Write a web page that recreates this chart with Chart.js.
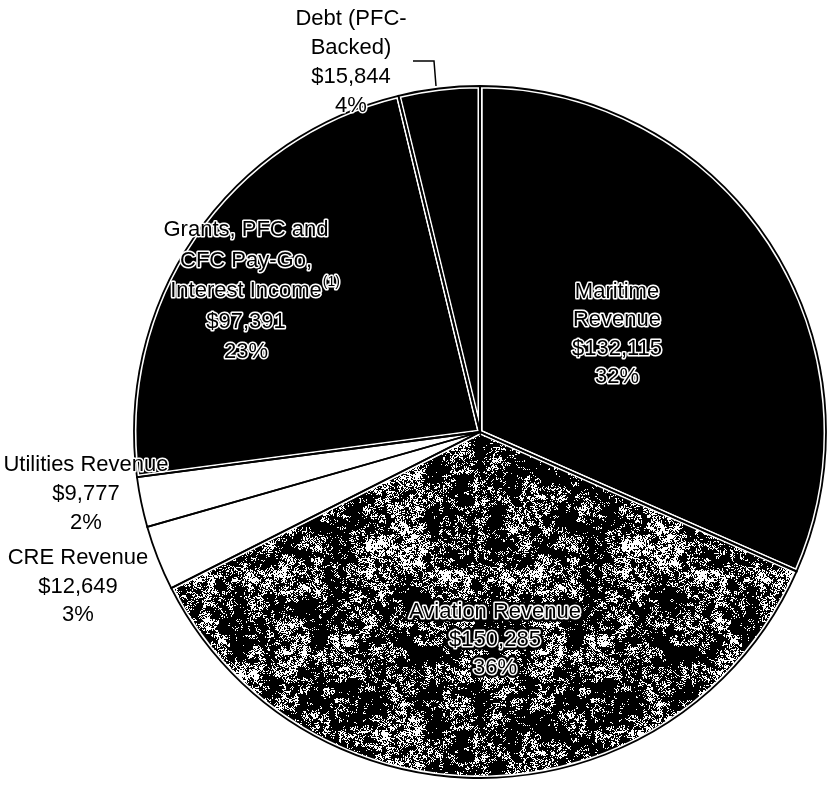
<!DOCTYPE html>
<html>
<head>
<meta charset="utf-8">
<script src="https://cdn.jsdelivr.net/npm/chart.js@4.4.1/dist/chart.umd.min.js"></script>
<style>
  html, body { margin: 0; padding: 0; background: #fff; }
  canvas { display: block; }
</style>
</head>
<body>
<canvas id="pie" width="832" height="788"></canvas>
<script>
// Funding sources ($ thousands), clockwise from 12 o'clock
const categories = ['Maritime Revenue', 'Aviation Revenue', 'CRE Revenue', 'Utilities Revenue',
                    'Grants, PFC and CFC Pay-Go, Interest Income', 'Debt (PFC-Backed)'];
const nameLines = [
  ['Maritime', 'Revenue'],
  ['Aviation Revenue'],
  ['CRE Revenue'],
  ['Utilities Revenue'],
  ['Grants, PFC and', 'CFC Pay-Go,', 'Interest Income'],
  ['Debt (PFC-', 'Backed)']
];
const footnoteMarks = ['', '', '', '', '(1)', ''];
const amounts = [132115, 150285, 12649, 9777, 97391, 15844];

// Label placement, relative to the pie centre (first line centre + line height)
const labelLayout = [
  { dx: 137,  dy: -140, lh: 28.3, darkHalo: false },
  { dx: 15,   dy: 180,  lh: 28,   darkHalo: true },
  { dx: -402, dy: 126,  lh: 28.5, darkHalo: false },
  { dx: -394, dy: 33,   lh: 29,   darkHalo: false },
  { dx: -234, dy: -202, lh: 30.5, darkHalo: false },
  { dx: -129, dy: -413, lh: 29,   darkHalo: false }
];
// Leader from the debt label down to its slice
const debtLeader = [[-67, -371], [-46, -371], [-44, -346]];

const FONT = '"Liberation Sans", Arial, Helvetica, sans-serif';

// Black/white grain used for the aviation slice
function grainPattern() {
  const s = 256;
  const c = document.createElement('canvas');
  c.width = c.height = s;
  const g = c.getContext('2d');
  const img = g.createImageData(s, s);
  const h = (x, y) => { const v = Math.sin(x * 127.1 + y * 311.7) * 43758.5453; return v - Math.floor(v); };
  const sm = t => t * t * (3 - 2 * t);
  const noise = (x, y, cell) => {
    const n = s / cell;
    const lat = (i, j) => h(((i % n) + n) % n + cell * 0.13, ((j % n) + n) % n + cell * 0.29);
    const fx = x / cell, fy = y / cell;
    const i = Math.floor(fx), j = Math.floor(fy);
    const tx = sm(fx - i), ty = sm(fy - j);
    const a = lat(i, j), b = lat(i + 1, j), c2 = lat(i, j + 1), d = lat(i + 1, j + 1);
    return (a * (1 - tx) + b * tx) * (1 - ty) + (c2 * (1 - tx) + d * tx) * ty;
  };
  for (let y = 0; y < s; y++) {
    for (let x = 0; x < s; x++) {
      const q = 0.3 * noise(x, y, 16) + 0.35 * noise(x, y, 4) + 0.35 * h(x + 0.37, y + 0.71);
      const on = q < 0.6 ? 0 : 255;
      const k = (y * s + x) * 4;
      img.data[k] = img.data[k + 1] = img.data[k + 2] = on;
      img.data[k + 3] = 255;
    }
  }
  g.putImageData(img, 0, 0);
  return g.createPattern(c, 'repeat');
}

const total = amounts.reduce((a, b) => a + b, 0);
const money = v => '$' + v.toLocaleString('en-US');
const pct = v => Math.round(v / total * 100) + '%';

const ctx0 = document.getElementById('pie').getContext('2d');
const sliceFills = ['#000', grainPattern(), '#fff', '#fff', '#000', '#000'];

// Thin black outline on every slice, sitting in the middle of the white border
const outlinePlugin = {
  id: 'sliceOutline',
  afterDatasetsDraw(chart) {
    const ctx = chart.ctx;
    const meta = chart.getDatasetMeta(0);
    ctx.save();
    ctx.strokeStyle = '#000';
    ctx.lineWidth = 1.8;
    meta.data.forEach(a => {
      ctx.beginPath();
      ctx.moveTo(a.x, a.y);
      ctx.arc(a.x, a.y, a.outerRadius, a.startAngle, a.endAngle);
      ctx.closePath();
      ctx.stroke();
    });
    ctx.restore();
  }
};

// Text labels: black glyphs with a white halo so they read on dark slices
const labelPlugin = {
  id: 'sliceLabels',
  afterDraw(chart) {
    const ctx = chart.ctx;
    const meta = chart.getDatasetMeta(0);
    const cx = meta.data[0].x, cy = meta.data[0].y;
    ctx.save();

    // leader line for the debt slice
    ctx.strokeStyle = '#000';
    ctx.lineWidth = 1.5;
    ctx.beginPath();
    debtLeader.forEach(([dx, dy], i) => i ? ctx.lineTo(cx + dx, cy + dy) : ctx.moveTo(cx + dx, cy + dy));
    ctx.stroke();

    ctx.textBaseline = 'middle';
    ctx.lineJoin = 'round';
    const halo = (t, x, y, dark) => {
      if (dark) {
        ctx.strokeStyle = '#000';
        ctx.lineWidth = 8;
        ctx.strokeText(t, x, y);
      }
      ctx.strokeStyle = '#fff';
      ctx.lineWidth = 3;
      ctx.strokeText(t, x, y);
      ctx.fillStyle = '#000';
      ctx.fillText(t, x, y);
    };
    amounts.forEach((v, i) => {
      const L = labelLayout[i];
      const lines = nameLines[i].concat([money(v), pct(v)]);
      const x = cx + L.dx;
      lines.forEach((t, k) => {
        const y = cy + L.dy + k * L.lh;
        ctx.font = '22px ' + FONT;
        ctx.textAlign = 'center';
        const w = ctx.measureText(t).width;
        halo(t, x, y, L.darkHalo);
        if (k === nameLines[i].length - 1 && footnoteMarks[i]) {
          ctx.font = '14px ' + FONT;
          ctx.textAlign = 'left';
          halo(footnoteMarks[i], x + w / 2 + 1, y - 9, L.darkHalo);
        }
      });
    });
    ctx.restore();
  }
};

new Chart(ctx0, {
  type: 'pie',
  data: {
    labels: categories,
    datasets: [{
      data: amounts,
      backgroundColor: sliceFills,
      borderColor: '#fff',
      borderWidth: 5,
      radius: 346
    }]
  },
  options: {
    responsive: false,
    animation: false,
    events: [],
    layout: { padding: { left: 128, right: 0, top: 76, bottom: 0 } },
    plugins: { legend: { display: false }, tooltip: { enabled: false } }
  },
  plugins: [outlinePlugin, labelPlugin]
});
</script>
</body>
</html>
